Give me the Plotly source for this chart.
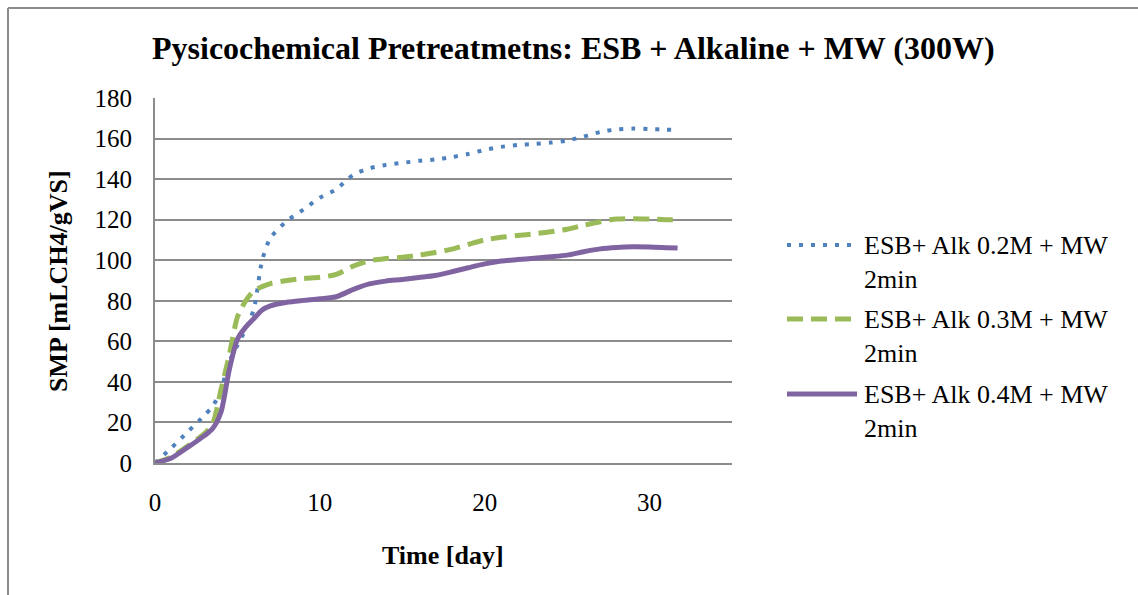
import plotly.graph_objects as go

# Sampling days (shared by all three series)
days = [0, 1, 2, 3, 3.5, 4, 4.5, 5, 5.5, 6, 6.5, 7, 8, 9, 10, 11, 12, 13, 14, 15,
        16, 17, 18, 19, 20, 21, 22, 23, 24, 25, 26, 27, 28, 29, 30, 31, 31.7]

# Specific methane production [mL CH4 / g VS]
smp_alk_02 = [0, 7.5, 15.5, 23.5, 28, 36, 50, 58, 66, 76, 100, 111, 119.4, 125, 130.8, 135,
              142, 145.3, 147, 148, 149, 149.7, 150.8, 152.4, 154.4, 155.9, 156.8, 157.3,
              158, 159, 161, 163.2, 164.5, 164.9, 164.7, 164.4, 164.3]
smp_alk_03 = [0, 3, 8.5, 14.5, 19.5, 36, 53, 72, 80, 85, 87, 88.5, 90, 91, 91.6, 93,
              97, 99.7, 100.8, 101.5, 102.5, 103.8, 105.5, 107.8, 110, 111.3, 112.2, 113,
              114, 115.3, 117.2, 119, 120.3, 120.5, 120.3, 120, 120]
smp_alk_04 = [0, 2.5, 7.8, 13.5, 17, 25, 45.8, 61, 67, 71.3, 75.5, 77.5, 79.3, 80.2, 81, 82,
              85.5, 88.3, 89.7, 90.5, 91.5, 92.5, 94.3, 96.3, 98.2, 99.6, 100.3, 101,
              101.7, 102.5, 104.2, 105.6, 106.3, 106.6, 106.5, 106.2, 106]

series_names = ["ESB+ Alk 0.2M + MW<br>2min",
                "ESB+ Alk 0.3M + MW<br>2min",
                "ESB+ Alk 0.4M + MW<br>2min"]
series_values = [smp_alk_02, smp_alk_03, smp_alk_04]
colors = ["#4F81BD", "#9BBB59", "#8064A2"]
dashes = ["4px,8px", "16px,8px", "solid"]
widths = [4, 5, 5]

title_text = "Pysicochemical Pretreatmetns: ESB + Alkaline + MW (300W)"
x_title = "Time [day]"
y_title = "SMP [mLCH4/gVS]"

FONT = "Liberation Serif, Times New Roman, serif"
GRID = "#8C8C8C"

fig = go.Figure()
for name, vals, c, d, w in zip(series_names, series_values, colors, dashes, widths):
    fig.add_trace(go.Scatter(
        x=days, y=vals, name=name, mode="lines", showlegend=False,
        line=dict(color=c, dash=d, width=w, shape="spline", smoothing=0.7),
    ))

# Plot area in pixels: left 155, right 732, top 98, bottom 463
L, R, T, B = 155, 732, 98, 463
W, H = 1138, 595
pw, ph = R - L, B - T


def px_x(px):
    return (px - L) / pw


def px_y(py):
    return (B - py) / ph


annotations = [
    dict(text="<b>" + title_text + "</b>", xref="paper", yref="paper",
         x=px_x(573), y=px_y(48), xanchor="center", yanchor="middle",
         showarrow=False, font=dict(family=FONT, size=32)),
    dict(text="<b>" + x_title + "</b>", xref="paper", yref="paper",
         x=px_x(443), y=px_y(555), xanchor="center", yanchor="middle",
         showarrow=False, font=dict(family=FONT, size=26)),
    dict(text="<b>" + y_title + "</b>", xref="paper", yref="paper",
         x=px_x(58), y=px_y(281), xanchor="center", yanchor="middle",
         textangle=-90, showarrow=False, font=dict(family=FONT, size=26)),
]

shapes = [
    dict(type="line", xref="paper", yref="paper",
         x0=px_x(8), x1=px_x(W + 5), y0=px_y(8), y1=px_y(8),
         line=dict(color="#8C8C8C", width=2)),
    dict(type="line", xref="paper", yref="paper",
         x0=px_x(8), x1=px_x(8), y0=px_y(8), y1=px_y(H + 5),
         line=dict(color="#8C8C8C", width=2)),
]

# Legend: sample line plus two-line label per series
legend_rows = [245, 319, 394]
for name, c, d, w, ry in zip(series_names, colors, dashes, widths, legend_rows):
    shapes.append(dict(type="line", xref="paper", yref="paper",
                       x0=px_x(787), x1=px_x(857), y0=px_y(ry), y1=px_y(ry),
                       line=dict(color=c, width=w, dash=d)))
    annotations.append(dict(text=name, xref="paper", yref="paper",
                            x=px_x(862), y=px_y(ry - 16), xanchor="left", yanchor="top",
                            align="left", showarrow=False,
                            font=dict(family=FONT, size=26, color="black")))

fig.update_layout(
    width=W, height=H,
    margin=dict(l=L, r=W - R, t=T, b=H - B, pad=0),
    paper_bgcolor="white", plot_bgcolor="white",
    font=dict(family=FONT, size=25, color="black"),
    showlegend=False,
    xaxis=dict(
        range=[0, 35], dtick=10, tick0=0,
        showgrid=False, zeroline=False,
        showline=True, linecolor=GRID, linewidth=2,
        ticks="", ticklabelstandoff=16,
        tickfont=dict(family=FONT, size=25),
    ),
    yaxis=dict(
        range=[0, 180], dtick=20, tick0=0,
        showgrid=True, gridcolor=GRID, gridwidth=1.5,
        zeroline=False,
        showline=True, linecolor=GRID, linewidth=2,
        ticks="", ticklabelstandoff=16,
        tickfont=dict(family=FONT, size=25),
    ),
    annotations=annotations,
    shapes=shapes,
)

fig.write_html("out.html")
